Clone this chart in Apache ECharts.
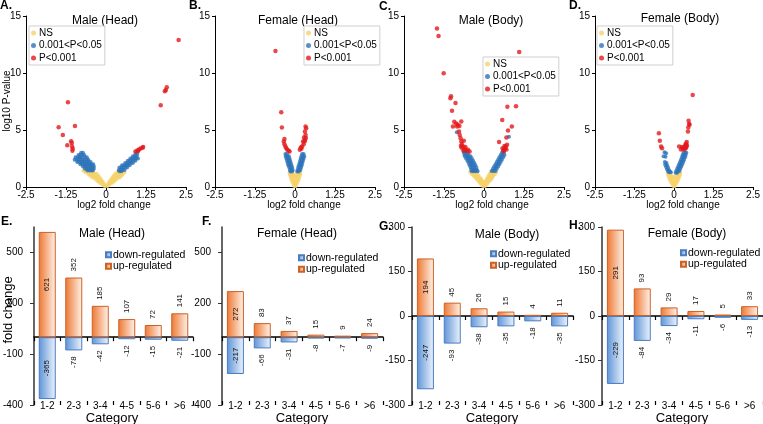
<!DOCTYPE html>
<html>
<head>
<meta charset="utf-8">
<script src="https://cdn.jsdelivr.net/npm/echarts@6/dist/echarts.min.js"></script>
<style>
html, body { margin: 0; padding: 0; background: #fff; }
#chart { width: 763px; height: 424px; }
</style>
</head>
<body>
<div id="chart"></div>
<script>
// ---- volcano plots: [log2 fold change, log10 P-value] ----
const aNS = [[-0.04,0.1],[-0.07,0.25],[-0.11,0.25],[-0.10,0.4],[-0.15,0.4],[-0.20,0.4],[-0.14,0.55],[-0.20,0.55],[-0.26,0.55],[-0.18,0.7],[-0.25,0.7],[-0.32,0.7],[-0.22,0.85],[-0.29,0.85],[-0.36,0.85],[-0.42,0.85],[-0.26,1.0],[-0.33,1.0],[-0.41,1.0],[-0.49,1.0],[-0.30,1.15],[-0.38,1.15],[-0.46,1.15],[-0.54,1.15],[-0.40,1.3],[-0.48,1.3],[-0.56,1.3],[-0.63,1.3],[-0.62,1.45],[-0.70,1.45],
  [0.04,0.1],[0.07,0.25],[0.11,0.25],[0.10,0.4],[0.15,0.4],[0.20,0.4],[0.14,0.55],[0.20,0.55],[0.26,0.55],[0.18,0.7],[0.25,0.7],[0.32,0.7],[0.22,0.85],[0.29,0.85],[0.36,0.85],[0.42,0.85],[0.26,1.0],[0.33,1.0],[0.41,1.0],[0.48,1.0],[0.30,1.15],[0.37,1.15],[0.44,1.15],[0.51,1.15],[0.36,1.3],[0.43,1.3],[0.50,1.3],[0.57,1.3]];
const aMid = [[-0.78,3.0],[-0.72,3.0],[-0.86,2.8],[-0.80,2.8],[-0.74,2.8],[-0.68,2.8],[-0.95,2.6],[-0.88,2.6],[-0.82,2.6],[-0.76,2.6],[-0.66,2.6],[-0.60,2.6],[-0.98,2.4],[-0.91,2.4],[-0.85,2.4],[-0.79,2.4],[-0.73,2.4],[-0.67,2.4],[-0.60,2.4],[-0.55,2.4],[-0.90,2.2],[-0.84,2.2],[-0.78,2.2],[-0.72,2.2],[-0.66,2.2],[-0.60,2.2],[-0.54,2.2],[-0.48,2.2],[-0.80,2.0],[-0.74,2.0],[-0.68,2.0],[-0.62,2.0],[-0.56,2.0],[-0.50,2.0],[-0.45,2.0],[-0.40,2.0],[-0.72,1.8],[-0.66,1.8],[-0.60,1.8],[-0.54,1.8],[-0.48,1.8],[-0.43,1.8],[-0.38,1.8],[-0.66,1.6],[-0.60,1.6],[-0.54,1.6],[-0.48,1.6],[-0.43,1.6],[-0.38,1.6],[-0.58,1.45],[-0.52,1.45],[-0.46,1.45],[-0.41,1.45],
  [0.92,2.9],[0.98,2.9],[0.84,2.7],[0.90,2.7],[0.96,2.7],[0.76,2.5],[0.82,2.5],[0.88,2.5],[0.94,2.5],[1.0,2.5],[0.68,2.3],[0.74,2.3],[0.80,2.3],[0.86,2.3],[0.92,2.3],[0.60,2.1],[0.66,2.1],[0.72,2.1],[0.78,2.1],[0.84,2.1],[0.50,1.9],[0.56,1.9],[0.62,1.9],[0.68,1.9],[0.74,1.9],[0.42,1.7],[0.48,1.7],[0.54,1.7],[0.60,1.7],[0.66,1.7],[0.40,1.5],[0.46,1.5],[0.52,1.5],[0.58,1.5],[0.42,1.38],[0.48,1.38]];
const aSig = [[2.27,12.9],[1.90,8.74],[1.87,8.5],[1.84,8.4],[1.71,7.17],[-1.19,7.43],[-0.97,5.35],[-1.48,5.24],[-1.35,4.56],[-1.21,3.66],[-1.09,4.02],[-1.07,3.85],[-1.06,3.55],[-1.04,3.35],[-1.05,3.17],[0.92,3.11],[0.98,3.2],[1.03,3.3],[1.08,3.37],[1.14,3.45],[1.16,3.5],[1.0,3.15]];

const bNS = [[-0.02,0.1],[0.02,0.1],[-0.05,0.3],[0,0.3],[0.05,0.3],[-0.08,0.5],[-0.03,0.5],[0.03,0.5],[0.08,0.5],[-0.11,0.7],[-0.06,0.7],[0.06,0.7],[0.11,0.7],[-0.13,0.9],[-0.08,0.9],[-0.03,0.9],[0.03,0.9],[0.08,0.9],[0.13,0.9],[-0.15,1.1],[-0.10,1.1],[-0.05,1.1],[0.05,1.1],[0.10,1.1],[0.15,1.1],[-0.16,1.25],[-0.11,1.25],[0.11,1.25],[0.16,1.25]];
const bMid = [[-0.30,2.9],[-0.25,2.9],[-0.29,2.7],[-0.24,2.7],[-0.19,2.7],[-0.27,2.5],[-0.22,2.5],[-0.17,2.5],[-0.25,2.3],[-0.20,2.3],[-0.15,2.3],[-0.23,2.1],[-0.18,2.1],[-0.13,2.1],[-0.21,1.9],[-0.16,1.9],[-0.11,1.9],[-0.18,1.7],[-0.13,1.7],[-0.09,1.7],[-0.16,1.5],[-0.11,1.5],[-0.07,1.5],[-0.14,1.35],[-0.09,1.35],
  [0.22,2.9],[0.27,2.9],[0.20,2.7],[0.25,2.7],[0.29,2.7],[0.18,2.5],[0.23,2.5],[0.27,2.5],[0.16,2.3],[0.21,2.3],[0.25,2.3],[0.14,2.1],[0.19,2.1],[0.23,2.1],[0.12,1.9],[0.17,1.9],[0.21,1.9],[0.10,1.7],[0.15,1.7],[0.19,1.7],[0.08,1.5],[0.13,1.5],[0.17,1.5],[0.07,1.35],[0.12,1.35]];
const bSig = [[-0.61,11.94],[-0.43,6.55],[-0.41,5.21],[-0.33,4.22],[-0.35,3.99],[-0.33,3.76],[-0.30,3.55],[-0.27,3.41],[-0.24,3.26],[-0.20,3.17],[-0.17,3.11],
  [0.33,5.3],[0.35,5.16],[0.31,4.86],[0.33,4.57],[0.28,4.34],[0.31,4.13],[0.25,3.99],[0.27,3.76],[0.22,3.55],[0.18,3.46],[0.20,3.35],[0.15,3.26],[0.30,4.0],[0.34,4.3]];

const cNS = [[-0.03,0.1],[0.03,0.1],[-0.08,0.25],[-0.03,0.25],[0.03,0.25],[0.08,0.25],[-0.12,0.4],[-0.07,0.4],[-0.02,0.4],[0.02,0.4],[0.07,0.4],[0.12,0.4],[-0.17,0.55],[-0.12,0.55],[-0.07,0.55],[0.07,0.55],[0.12,0.55],[0.17,0.55],[-0.22,0.7],[-0.16,0.7],[-0.10,0.7],[0.10,0.7],[0.16,0.7],[0.22,0.7],[-0.27,0.85],[-0.21,0.85],[-0.15,0.85],[0.13,0.85],[0.19,0.85],[0.25,0.85],[-0.32,1.0],[-0.26,1.0],[-0.19,1.0],[0.16,1.0],[0.22,1.0],[0.28,1.0],[-0.37,1.15],[-0.30,1.15],[-0.23,1.15],[0.19,1.15],[0.26,1.15],[0.33,1.15],[-0.42,1.3],[-0.35,1.3],[-0.28,1.3],[0.22,1.3],[0.30,1.3],[0.37,1.3]];
const cMid = [[-0.64,3.1],[-0.58,3.1],[-0.52,3.1],[-0.62,2.9],[-0.56,2.9],[-0.50,2.9],[-0.60,2.7],[-0.54,2.7],[-0.48,2.7],[-0.42,2.7],[-0.56,2.5],[-0.50,2.5],[-0.44,2.5],[-0.38,2.5],[-0.52,2.3],[-0.46,2.3],[-0.40,2.3],[-0.34,2.3],[-0.48,2.1],[-0.42,2.1],[-0.36,2.1],[-0.30,2.1],[-0.45,1.9],[-0.39,1.9],[-0.33,1.9],[-0.27,1.9],[-0.42,1.7],[-0.36,1.7],[-0.30,1.7],[-0.24,1.7],[-0.40,1.5],[-0.34,1.5],[-0.28,1.5],[-0.22,1.5],[-0.38,1.38],[-0.32,1.38],[-0.26,1.38],[-0.20,1.38],[-0.85,4.8],
  [0.56,3.0],[0.62,3.0],[0.52,2.8],[0.58,2.8],[0.64,2.8],[0.48,2.6],[0.54,2.6],[0.60,2.6],[0.44,2.4],[0.50,2.4],[0.56,2.4],[0.40,2.2],[0.46,2.2],[0.52,2.2],[0.36,2.0],[0.42,2.0],[0.48,2.0],[0.32,1.8],[0.38,1.8],[0.44,1.8],[0.28,1.6],[0.34,1.6],[0.40,1.6],[0.24,1.4],[0.30,1.4],[0.36,1.4],[0.78,4.4]];
const cSig = [[-1.47,13.9],[-1.42,13.25],[-1.26,9.97],[-1.03,7.95],[-1.05,7.78],[-0.89,7.36],[-1.0,6.68],[-0.71,5.75],[-0.93,5.72],[-0.87,5.58],[-0.82,5.45],[-0.77,5.36],[-0.84,5.3],[-0.97,5.3],[-0.78,4.86],[-0.76,4.57],[-0.73,4.28],[-0.71,3.99],[-0.63,4.05],[-0.69,3.76],[-0.66,3.55],[-0.60,3.35],[-0.55,3.17],[-0.50,3.26],[-0.45,3.11],[-0.70,3.45],[-0.72,3.6],[-0.58,3.5],[-0.64,3.2],
  [1.1,11.85],[0.73,7.05],[1.0,7.08],[0.57,5.88],[0.87,5.3],[0.75,4.95],[0.70,4.34],[0.47,3.95],[0.60,3.2],[0.63,3.3],[0.66,3.4],[0.68,3.55],[0.70,3.3],[0.64,3.6],[0.72,3.7],[0.62,3.15],[0.58,3.4]];

const dNS = [[-0.02,0.1],[0.02,0.1],[-0.06,0.3],[0,0.3],[0.06,0.3],[-0.10,0.5],[-0.04,0.5],[0.04,0.5],[0.10,0.5],[-0.13,0.7],[-0.07,0.7],[0.07,0.7],[0.13,0.7],[-0.16,0.9],[-0.10,0.9],[-0.04,0.9],[0.04,0.9],[0.10,0.9],[0.16,0.9],[-0.18,1.1],[-0.12,1.1],[0.12,1.1],[0.18,1.1],[-0.19,1.25],[-0.13,1.25],[0.13,1.25],[0.19,1.25]];
const dMid = [[-0.30,3.05],[-0.25,2.95],[-0.33,2.7],[-0.27,2.65],[-0.29,2.2],[-0.24,2.1],[-0.28,1.95],[-0.22,1.9],[-0.25,1.75],[-0.19,1.7],[-0.22,1.55],[-0.16,1.5],[-0.19,1.4],[-0.13,1.35],[-0.10,1.3],[-0.16,1.3],
  [0.30,3.0],[0.35,3.0],[0.39,3.0],[0.27,2.8],[0.32,2.8],[0.37,2.8],[0.25,2.6],[0.30,2.6],[0.35,2.6],[0.22,2.4],[0.27,2.4],[0.32,2.4],[0.19,2.2],[0.24,2.2],[0.29,2.2],[0.16,2.0],[0.21,2.0],[0.26,2.0],[0.13,1.8],[0.18,1.8],[0.23,1.8],[0.10,1.6],[0.15,1.6],[0.20,1.6],[0.07,1.4],[0.12,1.4],[0.17,1.4],[0.05,1.25],[0.10,1.25]];
const dSig = [[0.59,8.07],[-0.48,4.72],[-0.45,4.05],[-0.41,3.55],[-0.38,3.41],[0.46,5.82],[0.48,5.53],[0.49,5.45],[0.45,5.21],[0.44,4.86],[0.40,3.95],[0.38,3.8],[0.41,3.65],[0.35,3.55],[0.30,3.45],[0.25,3.5],[0.22,3.3],[0.37,3.4],[0.16,3.55],[0.33,3.3],[0.39,3.5],[0.28,3.35],[0.36,3.7]];

const volcanoXTicks = [-2.5, -1.25, 0, 1.25, 2.5];
const volcanoYTicks = [0, 5, 10, 15];

// ---- bar charts ----
const categories = ['1-2', '2-3', '3-4', '4-5', '5-6', '>6'];
const eUp = [621, 352, 185, 107, 72, 141];
const eDown = [-365, -78, -42, -12, -15, -21];
const fUp = [272, 83, 37, 15, 9, 24];
const fDown = [-217, -66, -31, -8, -7, -9];
const gUp = [194, 45, 26, 15, 4, 11];
const gDown = [-247, -93, -38, -35, -18, -35];
const hUp = [291, 93, 29, 17, 5, 33];
const hDown = [-229, -84, -34, -11, -6, -13];
const headYTicks = [-400, -100, 200, 500];
const bodyYTicks = [-300, -150, 0, 150, 300];

const FONT = '"Liberation Sans", Arial, Helvetica, sans-serif';
const YEL = '#F6D26C', BLU = '#2D73B9', RED = '#E3191C';
const NAMES = ['NS', '0.001<P<0.05', 'P<0.001'];

const grids = [], xAxes = [], yAxes = [], series = [], legends = [], graphics = [];

function txt(x, y, text, size, opt) {
  opt = opt || {};
  graphics.push({
    type: 'text', x: x, y: y, silent: true,
    rotation: opt.rot || 0,
    style: {
      text: text, fontSize: size, fontFamily: FONT, fontWeight: opt.bold ? 'bold' : 'normal',
      fill: '#000', align: opt.align || 'center', verticalAlign: opt.va || 'middle'
    }
  });
}

function axisText(size) {
  return { fontSize: size, color: '#000', fontFamily: FONT };
}

function volcano(left, ns, mid, sig, lgLeft, lgTop) {
  const g = grids.length;
  grids.push({ left: left, top: 16, width: 160, height: 171 });
  xAxes.push({
    type: 'value', gridIndex: g, min: -2.5, max: 2.5, interval: 1.25,
    axisLine: { onZero: false, lineStyle: { color: '#000', width: 1 } },
    axisTick: { length: 3, lineStyle: { color: '#000' }, customValues: volcanoXTicks },
    axisLabel: Object.assign({ margin: 3, customValues: volcanoXTicks }, axisText(10)),
    splitLine: { show: false }
  });
  yAxes.push({
    type: 'value', gridIndex: g, min: 0, max: 15, interval: 5,
    axisLine: { show: true, onZero: false, lineStyle: { color: '#000', width: 1 } },
    axisTick: { show: true, length: 3, lineStyle: { color: '#000' }, customValues: volcanoYTicks },
    axisLabel: Object.assign({ margin: 5, customValues: volcanoYTicks }, axisText(10)),
    splitLine: { show: false }
  });
  const ax = { xAxisIndex: g, yAxisIndex: g, type: 'scatter', silent: true };
  series.push(Object.assign({ name: NAMES[0], data: ns, symbolSize: 4.5, itemStyle: { color: YEL } }, ax));
  series.push(Object.assign({ name: NAMES[1], data: mid, symbolSize: 4, itemStyle: { color: BLU } }, ax));
  series.push(Object.assign({ name: NAMES[2], data: sig, symbolSize: 4.5, itemStyle: { color: RED } }, ax));
  legends.push({
    data: NAMES, left: lgLeft, top: lgTop, orient: 'vertical', icon: 'circle',
    itemWidth: 5, itemHeight: 5, itemGap: 0.5, padding: [1, 3, 1, 2],
    borderColor: '#cfcfcf', borderWidth: 1, backgroundColor: '#fff',
    textStyle: { fontSize: 10, color: '#000', fontFamily: FONT, lineHeight: 12, padding: [0, 0, 0, -2] },
    selectedMode: false
  });
}

const upFill = new echarts.graphic.LinearGradient(0, 0, 1, 0, [{ offset: 0, color: '#EE7731' }, { offset: 1, color: '#FFF4EC' }]);
const downFill = new echarts.graphic.LinearGradient(0, 0, 1, 0, [{ offset: 0, color: '#5E94D7' }, { offset: 1, color: '#EEF4FC' }]);

function barItems(vals) {
  return vals.map(function (v, k) {
    const lab = k === 0
      ? { position: 'inside', rotate: 90, align: 'center', verticalAlign: 'middle' }
      : { position: 'outside', rotate: 90, align: v >= 0 ? 'left' : 'right', verticalAlign: 'middle', distance: 6 };
    return { value: v, label: lab };
  });
}

function bars(left, up, down, yMin, yMax, yTicks, yInt, labMargin, lgLeft, lgTop) {
  const g = grids.length;
  grids.push({ left: left, top: 227, width: 161, height: 178 });
  const x0 = xAxes.length;
  // zero line with ticks below
  xAxes.push({
    type: 'category', gridIndex: g, data: categories, position: 'bottom',
    axisLine: { onZero: true, lineStyle: { color: '#000', width: 1.5 } },
    axisTick: { show: true, length: 4, lineStyle: { color: '#000', width: 1.2 } },
    axisLabel: { show: false }, splitLine: { show: false }
  });
  // same ticks above
  xAxes.push({
    type: 'category', gridIndex: g, data: categories, position: 'bottom',
    axisLine: { show: false, onZero: true },
    axisTick: { show: true, inside: true, length: 4, lineStyle: { color: '#000', width: 1.2 } },
    axisLabel: { show: false }, splitLine: { show: false }
  });
  // category labels at the bottom
  xAxes.push({
    type: 'category', gridIndex: g, data: categories, position: 'bottom',
    axisLine: { show: false, onZero: false }, axisTick: { show: false },
    axisLabel: Object.assign({ margin: -4, interval: 0 }, axisText(10)), splitLine: { show: false }
  });
  yAxes.push({
    type: 'value', gridIndex: g, min: yMin, max: yMax, interval: yInt,
    axisLine: { show: true, onZero: false, lineStyle: { color: '#333', width: 1.5 } },
    axisTick: { show: true, length: 4, lineStyle: { color: '#333' }, customValues: yTicks },
    axisLabel: Object.assign({ margin: labMargin, customValues: yTicks }, axisText(10)),
    splitLine: { show: false }
  });
  const common = {
    type: 'bar', xAxisIndex: x0, yAxisIndex: g, stack: 's' + g, barWidth: 17, silent: true,
    label: { show: true, fontSize: 8, color: '#111', fontFamily: FONT }
  };
  series.push(Object.assign({ name: 'down-regulated', data: barItems(down), itemStyle: { color: downFill, borderColor: '#4A7CC0', borderWidth: 1 } }, common));
  series.push(Object.assign({ name: 'up-regulated', data: barItems(up), itemStyle: { color: upFill, borderColor: '#CB6228', borderWidth: 1 } }, common));
  legends.push({
    data: ['down-regulated', 'up-regulated'], left: lgLeft, top: lgTop, orient: 'vertical', icon: 'rect',
    itemWidth: 5, itemHeight: 5, itemGap: 0, padding: 0,
    textStyle: { fontSize: 10.5, color: '#000', fontFamily: FONT, lineHeight: 11.5, padding: [0, 0, 0, -3] },
    selectedMode: false
  });
}

volcano(26, aNS, aMid, aSig, 29, 26);
volcano(215, bNS, bMid, bSig, 304, 26);
volcano(404, cNS, cMid, cSig, 483, 57);
volcano(595, dNS, dMid, dSig, 597, 26);

bars(32, eUp, eDown, -400, 650, headYTicks, 300, 11, 105, 249);
bars(222, fUp, fDown, -400, 650, headYTicks, 300, 11, 298, 252);
bars(412, gUp, gDown, -300, 300, bodyYTicks, 150, 7, 490, 248);
bars(602, hUp, hDown, -300, 300, bodyYTicks, 150, 7, 680, 247);

// panel letters
[['A.', 0, 0], ['B.', 189, 0], ['C.', 379, 1], ['D.', 569, 0],
 ['E.', 1, 216], ['F.', 202, 216], ['G.', 379, 221], ['H.', 569, 220]].forEach(function (p) {
  txt(p[1], p[2], p[0], 12, { bold: true, align: 'left', va: 'top' });
});

// titles
[['Male (Head)', 105, 21], ['Female (Head)', 298, 21], ['Male (Body)', 491, 21], ['Female (Body)', 680, 19],
 ['Male (Head)', 112, 234], ['Female (Head)', 297, 234], ['Male (Body)', 507, 235], ['Female (Body)', 687, 234]].forEach(function (t) {
  txt(t[1], t[2], t[0], 12);
});

// axis titles
txt(7, 101, 'log10 P-value', 10, { rot: Math.PI / 2 });
[114, 304, 492, 683].forEach(function (x) { txt(x, 205, 'log2 fold change', 10); });
txt(8, 310, 'fold change', 13, { rot: Math.PI / 2 });
[112, 302, 492, 682].forEach(function (x) { txt(x, 418, 'Category', 13); });

const chart = echarts.init(document.getElementById('chart'), null, { renderer: 'canvas' });
chart.setOption({
  animation: false,
  textStyle: { fontFamily: FONT },
  grid: grids,
  xAxis: xAxes,
  yAxis: yAxes,
  legend: legends,
  series: series,
  graphic: graphics
});
</script>
</body>
</html>
